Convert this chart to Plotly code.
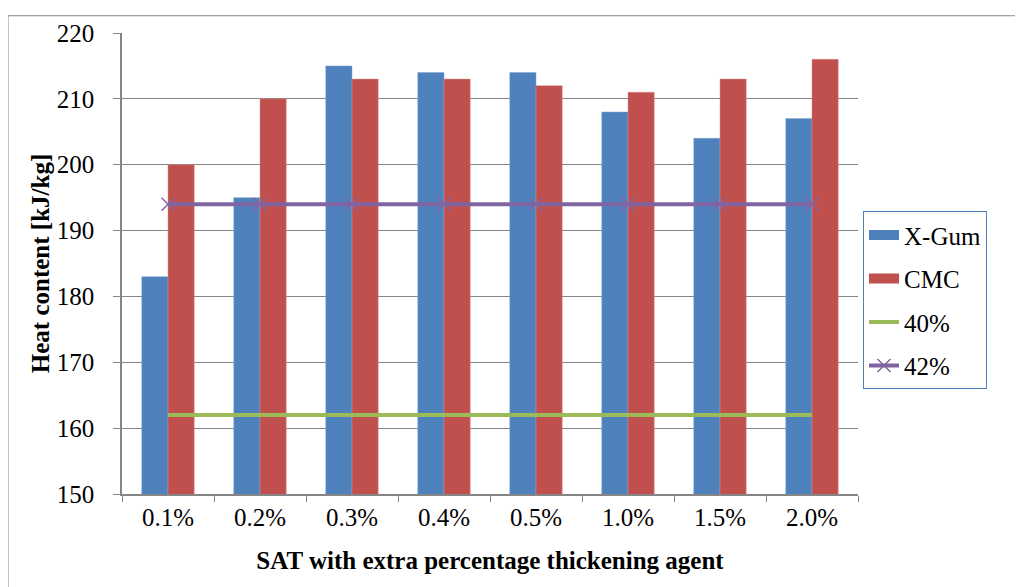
import plotly.graph_objects as go

categories = ["0.1%", "0.2%", "0.3%", "0.4%", "0.5%", "1.0%", "1.5%", "2.0%"]
xgum = [183, 195, 215, 214, 214, 208, 204, 207]
cmc = [200, 210, 213, 213, 212, 211, 213, 216]
ref40 = [162, 162, 162, 162, 162, 162, 162, 162]
ref42 = [194, 194, 194, 194, 194, 194, 194, 194]

OFF = 8  # page body margin
W, H = 1023 - OFF, 587 - OFF
# plot area in screen pixels
SL, SR, ST, SB = 122, 858, 26, 494
L, R, T, B = SL - OFF, SR - OFF, ST - OFF, SB - OFF

BLUE, RED, GREEN, PURPLE = "#4F81BD", "#C0504D", "#9BBB59", "#8064A2"

fig = go.Figure()
fig.add_trace(go.Bar(x=categories, y=xgum, name="X-Gum", marker_color=BLUE,
                     marker_line=dict(color="#7FA3D0", width=0.5), showlegend=False))
fig.add_trace(go.Bar(x=categories, y=cmc, name="CMC", marker_color=RED,
                     marker_line=dict(color="#D68B89", width=0.5), showlegend=False))
fig.add_trace(go.Scatter(x=categories, y=ref40, name="40%", mode="lines",
                         line=dict(color=GREEN, width=4), showlegend=False))
fig.add_trace(go.Scatter(x=categories, y=ref42, name="42%", mode="lines+markers",
                         line=dict(color=PURPLE, width=4),
                         marker=dict(symbol="x-thin", size=13, line=dict(color=PURPLE, width=1.5)),
                         showlegend=False))

# legend entries (legend-only traces mimicking Excel legend keys)
fig.add_trace(go.Scatter(x=[None], y=[None], name="X-Gum", mode="lines",
                         line=dict(color=BLUE, width=12), legendgroup="a"))
fig.add_trace(go.Scatter(x=[None], y=[None], name="CMC", mode="lines",
                         line=dict(color=RED, width=12), legendgroup="b"))
fig.add_trace(go.Scatter(x=[None], y=[None], name="40%", mode="lines",
                         line=dict(color=GREEN, width=4), legendgroup="c"))
fig.add_trace(go.Scatter(x=[None], y=[None], name="42%", mode="lines+markers",
                         line=dict(color=PURPLE, width=4),
                         marker=dict(symbol="x-thin", size=13, line=dict(color=PURPLE, width=1.5)),
                         legendgroup="d"))

font = "Liberation Serif"
FS = 25
fig.update_layout(
    width=W, height=H,
    margin=dict(l=L, r=W - R, t=T, b=H - B),
    paper_bgcolor="white", plot_bgcolor="white",
    font=dict(family=font, size=FS, color="black"),
    barmode="group", bargap=0.43, bargroupgap=0,
    showlegend=True,
    legend=dict(x=(863 - SL) / (SR - SL), y=(SB - 207) / (SB - ST), xanchor="left", yanchor="top",
                bordercolor=BLUE, borderwidth=1, bgcolor="white",
                font=dict(family=font, size=FS), traceorder="grouped", tracegroupgap=8),
    xaxis=dict(showline=True, linecolor="#868686", linewidth=1.5, ticks="outside",
               tickson="boundaries", ticklen=6, tickcolor="#868686",
               tickfont=dict(family=font, size=FS),
               title=dict(text="<b>SAT with extra percentage thickening agent</b>",
                          font=dict(family=font, size=FS), standoff=22)),
    yaxis=dict(range=[150, 220], dtick=10, showline=True, linecolor="#868686", linewidth=1.5,
               ticks="outside", ticklen=7, tickcolor="#868686", ticklabelstandoff=14,
               showgrid=True, gridcolor="#868686", gridwidth=1,
               tickfont=dict(family=font, size=FS),
               title=dict(text="<b>Heat content [kJ/kg]</b>",
                          font=dict(family=font, size=FS), standoff=0)),
)

# outer frame of chart area (screen pixel coordinates converted to paper units)
def px2x(px):
    return (px - SL) / (SR - SL)

def py2y(py):
    return (SB - py) / (SB - ST)

fig.add_shape(type="rect", xref="paper", yref="paper",
              x0=px2x(8), x1=px2x(1020.5), y0=py2y(590), y1=py2y(8.5),
              line=dict(color="#868686", width=1), fillcolor="rgba(0,0,0,0)", layer="below")

fig.write_html("out.html")
